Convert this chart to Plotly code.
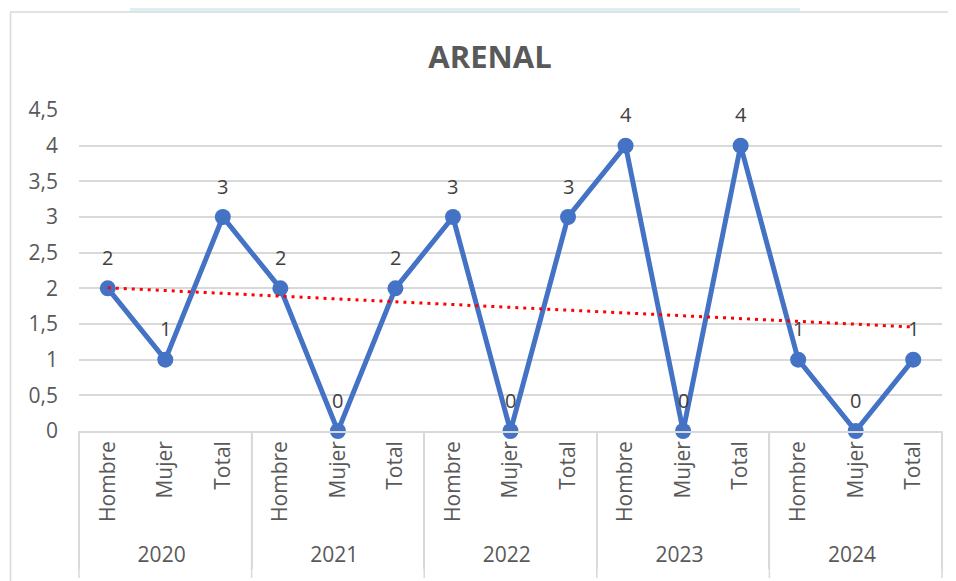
import numpy as np
import plotly.graph_objects as go

years = ["2020"] * 3 + ["2021"] * 3 + ["2022"] * 3 + ["2023"] * 3 + ["2024"] * 3
labels = ["Hombre", "Mujer", "Total"] * 5
values = [2, 1, 3, 2, 0, 2, 3, 0, 3, 4, 0, 4, 1, 0, 1]
ytick_vals = [0, 0.5, 1, 1.5, 2, 2.5, 3, 3.5, 4, 4.5]
ytick_text = ["0", "0,5", "1", "1,5", "2", "2,5", "3", "3,5", "4", "4,5"]

# page is offset by the 8px default body margin
OFF = 8
W, H = 948, 573
L, R, T, B = 71, 14, 102, 150
pw, ph = W - L - R, H - T - B

def px_x(x):  # page pixel -> paper
    return (x - OFF - L) / pw

def px_y(y):
    return (H - B - (y - OFF)) / ph

idx = np.arange(len(values))
slope, intercept = np.polyfit(idx, values, 1)
trend = slope * idx + intercept

FONT = "Open Sans, Liberation Sans, sans-serif"
GRID = "#D9D9D9"
FS = 21

fig = go.Figure()
fig.add_trace(go.Scatter(
    x=[years, labels], y=values, mode="lines+markers",
    line=dict(color="#4472C4", width=5),
    marker=dict(color="#4472C4", size=16),
    cliponaxis=False, showlegend=False,
))
fig.add_trace(go.Scatter(
    x=[years, labels], y=trend, mode="lines",
    line=dict(color="#FF0000", width=3, dash="3px,5px"),
    showlegend=False, hoverinfo="skip",
))

annotations = [
    dict(x=i, y=v, xref="x", yref="y", text=str(v), showarrow=False,
         yshift=31, xanchor="center", yanchor="middle",
         font=dict(size=FS - 1, color="#404040", family=FONT))
    for i, v in enumerate(values)
]

n_groups = len(values) // 3
shapes = [
    dict(type="rect", xref="paper", yref="paper",
         x0=px_x(130), x1=px_x(800), y0=px_y(11), y1=px_y(0),
         fillcolor="#DCEFF7", line=dict(width=0), layer="below"),
    dict(type="rect", xref="paper", yref="paper",
         x0=px_x(10.5), x1=px_x(980), y0=px_y(600), y1=px_y(12),
         fillcolor="rgba(0,0,0,0)", line=dict(color=GRID, width=1.5)),
]
for k in range(n_groups + 1):
    shapes.append(dict(type="line", xref="paper", yref="paper",
                       x0=k / n_groups, x1=k / n_groups, y0=px_y(578), y1=0,
                       line=dict(color=GRID, width=1.5)))

fig.update_layout(
    width=W, height=H,
    margin=dict(l=L, r=R, t=T, b=B),
    paper_bgcolor="white", plot_bgcolor="white",
    title=dict(text="<b>ARENAL</b>", x=(490 - OFF) / W, xanchor="center",
               y=1 - (57 - OFF) / H, yanchor="middle",
               font=dict(size=31, color="#595959", family=FONT)),
    shapes=shapes,
    annotations=annotations,
    xaxis=dict(
        type="multicategory", tickangle=-90, range=[-0.5, len(values) - 0.5],
        tickfont=dict(size=FS, color="#595959", family=FONT),
        showline=True, linecolor=GRID, linewidth=1.5,
        showgrid=False, ticks="",
        showdividers=True, dividercolor=GRID, dividerwidth=1.5,
    ),
    yaxis=dict(
        range=[0, 4.5], tickvals=ytick_vals, ticktext=ytick_text,
        tickfont=dict(size=FS, color="#595959", family=FONT),
        showgrid=True, gridcolor=GRID, gridwidth=1.5,
        zeroline=False, ticks="", ticklabelstandoff=20,
    ),
)

fig.write_html("out.html")
